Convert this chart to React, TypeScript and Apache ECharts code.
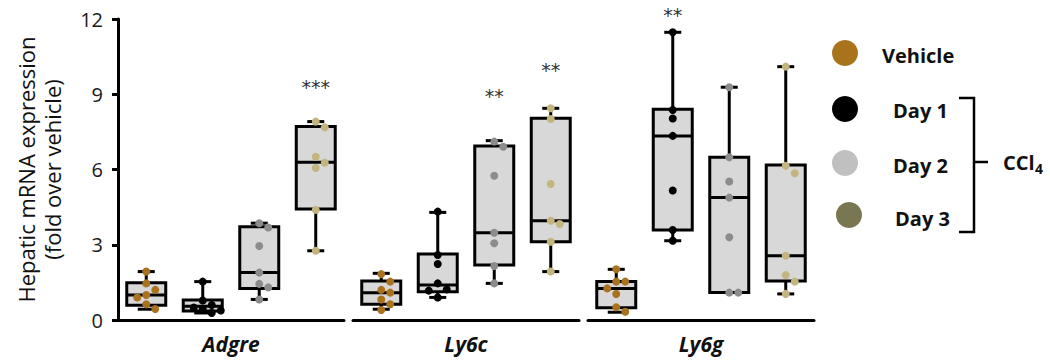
import React, { useEffect, useRef } from "react";
import * as echarts from "echarts";

const conditions = ["Vehicle", "Day 1", "Day 2", "Day 3"];
const genes = ["Adgre", "Ly6c", "Ly6g"];
const yTicks = [0, 3, 6, 9, 12];

// box stats per condition: [min, q1, median, q3, max]
const adgreBoxes = [
  [0.43, 0.59, 1.0, 1.49, 1.93],
  [0.28, 0.36, 0.55, 0.8, 1.53],
  [0.82, 1.26, 1.89, 3.72, 3.86],
  [2.76, 4.43, 6.29, 7.71, 7.91],
];
const ly6cBoxes = [
  [0.43, 0.63, 1.09, 1.55, 1.86],
  [0.9, 1.13, 1.4, 2.63, 4.29],
  [1.46, 2.19, 3.48, 6.94, 7.15],
  [1.93, 3.12, 3.96, 8.04, 8.44],
];
const ly6gBoxes = [
  [0.31, 0.49, 1.26, 1.53, 2.02],
  [3.16, 3.59, 7.34, 8.4, 11.47],
  [1.1, 1.1, 4.88, 6.49, 9.28],
  [1.04, 1.55, 2.56, 6.18, 10.1],
];

// individual animals
const adgrePoints = [
  [1.93, 1.46, 1.2, 1.0, 0.9, 0.63, 0.44],
  [1.53, 0.78, 0.6, 0.5, 0.45, 0.38, 0.28],
  [3.86, 3.69, 2.95, 1.89, 1.44, 1.3, 0.82],
  [7.91, 7.68, 6.51, 6.27, 6.06, 4.39, 2.76],
];
const ly6cPoints = [
  [1.83, 1.53, 1.2, 1.09, 0.82, 0.63, 0.4],
  [4.32, 2.59, 2.23, 1.46, 1.22, 1.17, 0.9],
  [7.11, 6.91, 5.75, 3.48, 3.06, 2.15, 1.46],
  [8.44, 8.01, 5.42, 3.96, 3.83, 3.12, 1.93],
];
const ly6gPoints = [
  [2.02, 1.53, 1.53, 1.26, 1.04, 0.51, 0.33],
  [11.47, 8.37, 8.03, 7.34, 5.16, 3.59, 3.16],
  [9.28, 6.49, 5.52, 4.88, 3.3, 1.09, 1.09],
  [10.1, 6.15, 5.85, 2.56, 1.79, 1.53, 1.04],
];

// significance marks and the level they are written at
const adgreSig = ["", "", "", "***"];
const ly6cSig = ["", "", "**", "**"];
const ly6gSig = ["", "**", "", ""];
const adgreSigLevel = [null, null, null, 9.3];
const ly6cSigLevel = [null, null, 8.95, 9.95];
const ly6gSigLevel = [null, 12.15, null, null];

const pointColors = ["#a8721f", "#000000", "#8c8c8c", "#c4b47e"];
const legendColors = ["#a8731a", "#000000", "#c0c0c0", "#787752"];

const FONT = "'Open Sans', 'Noto Sans', sans-serif";

// simple beeswarm: place each point at the first free slot 0, +d, -d, +2d, -2d
function swarmOffsets(ys: number[], step: number, minDist: number): number[] {
  const placed: { x: number; y: number }[] = [];
  const slots = [0, 1, -1, 2, -2];
  return ys.map((y) => {
    let chosen = slots[slots.length - 1] * step;
    for (const s of slots) {
      const x = s * step;
      const ok = placed.every((p) => Math.hypot(p.x - x, p.y - y) >= minDist);
      if (ok) {
        chosen = x;
        break;
      }
    }
    placed.push({ x: chosen, y });
    return chosen;
  });
}

function makeRenderItem(points: number[][], sig: string[], sigLevel: (number | null)[]) {
  return (params: any, api: any) => {
    const c = api.value(0);
    const vals = [1, 2, 3, 4, 5].map((d) => api.value(d));
    const [pMin, pQ1, pMed, pQ3, pMax] = vals.map((v) => api.coord([c, v]));
    const cx = pMed[0];
    const bw = api.size([1, 0])[0] * 0.69;
    const cap = 8.5;
    const ls = { stroke: "#000", lineWidth: 3 };
    const children: any[] = [
      { type: "line", shape: { x1: cx, y1: pMax[1], x2: cx, y2: pQ3[1] }, style: ls },
      { type: "line", shape: { x1: cx, y1: pQ1[1], x2: cx, y2: pMin[1] }, style: ls },
      { type: "line", shape: { x1: cx - cap, y1: pMax[1], x2: cx + cap, y2: pMax[1] }, style: ls },
      { type: "line", shape: { x1: cx - cap, y1: pMin[1], x2: cx + cap, y2: pMin[1] }, style: ls },
      {
        type: "rect",
        shape: { x: cx - bw / 2, y: pQ3[1], width: bw, height: pQ1[1] - pQ3[1] },
        style: { fill: "#d8d8d8", stroke: "#000", lineWidth: 3 },
      },
      { type: "line", shape: { x1: cx - bw / 2, y1: pMed[1], x2: cx + bw / 2, y2: pMed[1] }, style: ls },
    ];
    const i = params.dataIndex;
    const pts = points[i];
    const pys = pts.map((v) => api.coord([c, v])[1]);
    const offs = swarmOffsets(pys, 9, 8);
    pts.forEach((_, k) => {
      children.push({
        type: "circle",
        shape: { cx: cx + offs[k], cy: pys[k], r: 4 },
        style: { fill: pointColors[i] },
      });
    });
    if (sig[i] && sigLevel[i] != null) {
      const p = api.coord([c, sigLevel[i]]);
      children.push({
        type: "text",
        x: cx,
        y: p[1],
        style: {
          text: sig[i],
          fill: "#333333",
          fontSize: 19,
          fontFamily: "'DejaVu Sans', sans-serif",
          align: "center",
          verticalAlign: "middle",
        },
      });
    }
    return { type: "group", children };
  };
}

const boxSets = [adgreBoxes, ly6cBoxes, ly6gBoxes];
const pointSets = [adgrePoints, ly6cPoints, ly6gPoints];
const sigSets = [adgreSig, ly6cSig, ly6gSig];
const sigLevelSets = [adgreSigLevel, ly6cSigLevel, ly6gSigLevel];

export default function App() {
  const ref = useRef<HTMLDivElement>(null);
  useEffect(() => {
    document.body.style.margin = "0";
    if (!ref.current) return;
    const chart = echarts.init(ref.current, null, { renderer: "svg" });
    const lefts = [118, 353, 588];
    const option: any = {
      animation: false,
      backgroundColor: "#ffffff",
      grid: lefts.map((l) => ({ left: l, top: 19, width: 226, height: 301 })),
      xAxis: genes.map((g, gi) => ({
        type: "category",
        gridIndex: gi,
        data: conditions,
        axisLine: { show: true, lineStyle: { color: "#000", width: 3 } },
        axisTick: { show: false },
        axisLabel: { show: false },
        splitLine: { show: false },
        name: g,
        nameLocation: "middle",
        nameGap: 13,
        nameTextStyle: {
          fontStyle: "italic",
          fontWeight: "bold",
          fontSize: 21,
          color: "#111",
          fontFamily: FONT,
        },
      })),
      yAxis: genes.map((_, gi) => ({
        type: "value",
        gridIndex: gi,
        min: yTicks[0],
        max: yTicks[yTicks.length - 1],
        interval: 3,
        show: gi === 0,
        axisLine: { show: true, lineStyle: { color: "#000", width: 3 } },
        axisTick: { show: true, length: 6, lineStyle: { color: "#000", width: 3 } },
        axisLabel: { fontSize: 20, color: "#1a1a1a", margin: 15, fontFamily: FONT },
        splitLine: { show: false },
        name: gi === 0 ? "Hepatic mRNA expression\n(fold over vehicle)" : "",
        nameLocation: "middle",
        nameRotate: 90,
        nameGap: 53,
        nameTextStyle: { fontSize: 22, color: "#111", lineHeight: 26, fontFamily: FONT },
      })),
      series: genes.map((_, gi) => ({
        type: "custom",
        xAxisIndex: gi,
        yAxisIndex: gi,
        encode: { x: 0, y: [1, 2, 3, 4, 5] },
        data: boxSets[gi].map((b, i) => [i, ...b]),
        renderItem: makeRenderItem(pointSets[gi], sigSets[gi], sigLevelSets[gi]),
        clip: false,
      })),
      graphic: [
        ...[53, 109, 163, 215].map((cy, i) => ({
          type: "circle",
          shape: { cx: i === 3 ? 849 : 845, cy, r: 13 },
          style: { fill: legendColors[i] },
        })),
        ...[
          { t: conditions[0], x: 882, y: 55 },
          { t: conditions[1], x: 893, y: 110 },
          { t: conditions[2], x: 893, y: 165 },
          { t: conditions[3], x: 895, y: 218 },
        ].map((d) => ({
          type: "text",
          x: d.x,
          y: d.y,
          style: {
            text: d.t,
            fill: "#111",
            fontSize: 20,
            fontWeight: "bold",
            fontFamily: FONT,
            align: "left",
            verticalAlign: "middle",
          },
        })),
        {
          type: "polyline",
          shape: { points: [[959, 98], [974, 98], [974, 232], [959, 232]] },
          style: { stroke: "#000", lineWidth: 2.5, fill: "none" },
        },
        {
          type: "line",
          shape: { x1: 974, y1: 162, x2: 988, y2: 162 },
          style: { stroke: "#000", lineWidth: 2.5 },
        },
        {
          type: "text",
          x: 1003,
          y: 162,
          style: {
            text: "CCl",
            fill: "#111",
            fontSize: 20,
            fontWeight: "bold",
            fontFamily: FONT,
            align: "left",
            verticalAlign: "middle",
          },
        },
        {
          type: "text",
          x: 1035,
          y: 168,
          style: {
            text: "4",
            fill: "#111",
            fontSize: 14,
            fontWeight: "bold",
            fontFamily: FONT,
            align: "left",
            verticalAlign: "middle",
          },
        },
      ],
    };
    chart.setOption(option);
    return () => chart.dispose();
  }, []);
  return <div ref={ref} style={{ width: 1050, height: 360 }} />;
}
